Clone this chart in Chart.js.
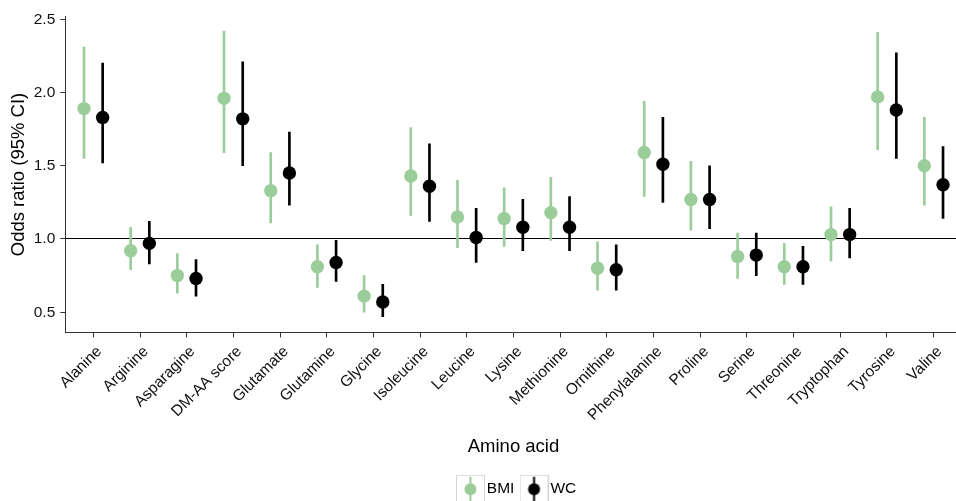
<!DOCTYPE html>
<html>
<head>
<meta charset="utf-8">
<script src="https://cdn.jsdelivr.net/npm/chart.js@4.4.1/dist/chart.umd.min.js"></script>
<style>
  html, body { margin: 0; padding: 0; background: #fff; overflow: hidden; }
  #wrap { width: 956px; height: 501px; overflow: hidden; }
</style>
</head>
<body>
<div id="wrap"><canvas id="chart" width="1038" height="513"></canvas></div>
<script>
// categories
const AMINO = [
  "Alanine", "Arginine", "Asparagine", "DM-AA score", "Glutamate", "Glutamine",
  "Glycine", "Isoleucine", "Leucine", "Lysine", "Methionine", "Ornithine",
  "Phenylalanine", "Proline", "Serine", "Threonine", "Tryptophan", "Tyrosine", "Valine"
];

// BMI odds ratios + 95% CI
const BMI_OR = [1.89, 0.92, 0.75, 1.96, 1.33, 0.81, 0.61, 1.43, 1.15, 1.14, 1.18, 0.80, 1.59, 1.27, 0.88, 0.81, 1.03, 1.97, 1.50];
const BMI_LO = [1.55, 0.79, 0.63, 1.59, 1.11, 0.67, 0.50, 1.16, 0.94, 0.95, 0.99, 0.65, 1.29, 1.06, 0.73, 0.69, 0.85, 1.61, 1.23];
const BMI_HI = [2.31, 1.08, 0.90, 2.42, 1.59, 0.96, 0.75, 1.76, 1.40, 1.35, 1.42, 0.98, 1.94, 1.53, 1.04, 0.97, 1.22, 2.41, 1.83];

// WC odds ratios + 95% CI
const WC_OR = [1.83, 0.97, 0.73, 1.82, 1.45, 0.84, 0.57, 1.36, 1.01, 1.08, 1.08, 0.79, 1.51, 1.27, 0.89, 0.81, 1.03, 1.88, 1.37];
const WC_LO = [1.52, 0.83, 0.61, 1.50, 1.23, 0.71, 0.47, 1.12, 0.84, 0.92, 0.92, 0.65, 1.25, 1.07, 0.75, 0.69, 0.87, 1.55, 1.14];
const WC_HI = [2.20, 1.12, 0.86, 2.21, 1.73, 0.99, 0.69, 1.65, 1.21, 1.27, 1.29, 0.96, 1.83, 1.50, 1.04, 0.95, 1.21, 2.27, 1.63];

const Y_TICKS = [0.5, 1.0, 1.5, 2.0, 2.5];

const GREEN = "#9BCD9B";
const BLACK = "#000000";
const FONT = "'Liberation Sans', Arial, sans-serif";
const DODGE = 0.2;

// points / error bars, dodged around the category position
const pts = (vals, off) => vals.map((v, i) => ({ x: i + off, y: v }));
const bars = (lo, hi, off) => lo.map((v, i) => ({ x: i + off, y: [v, hi[i]] }));

// legend key: grey box, vertical range line and dot
function legendKey(color) {
  const c = document.createElement("canvas");
  c.width = 29; c.height = 29;
  const g = c.getContext("2d");
  g.strokeStyle = "#d4d4d4"; g.lineWidth = 1;
  g.strokeRect(0.5, 0.5, 28, 28);
  g.strokeStyle = color; g.lineWidth = 2;
  g.beginPath(); g.moveTo(14.5, 2); g.lineTo(14.5, 27); g.stroke();
  g.fillStyle = color;
  g.beginPath(); g.arc(14.5, 14.5, 6, 0, Math.PI * 2); g.fill();
  return c;
}
const KEYS = [legendKey(GREEN), legendKey(BLACK)];

const ctx = document.getElementById("chart").getContext("2d");

new Chart(ctx, {
  type: "bar",
  data: {
    datasets: [
      { type: "scatter", label: "BMI", data: pts(BMI_OR, -DODGE), backgroundColor: GREEN,
        pointRadius: 6.7, pointBorderWidth: 0, order: 0 },
      { type: "scatter", label: "WC", data: pts(WC_OR, DODGE), backgroundColor: BLACK,
        pointRadius: 6.7, pointBorderWidth: 0, order: 0 },
      { label: "BMI CI", data: bars(BMI_LO, BMI_HI, -DODGE), backgroundColor: GREEN,
        barThickness: 2, grouped: false, borderWidth: 0, order: 1 },
      { label: "WC CI", data: bars(WC_LO, WC_HI, DODGE), backgroundColor: BLACK,
        barThickness: 2, grouped: false, borderWidth: 0, order: 1 }
    ]
  },
  options: {
    responsive: false,
    animation: false,
    devicePixelRatio: 1,
    layout: { padding: { top: 16.6, right: 0, bottom: 6.05, left: 0 } },
    plugins: {
      tooltip: { enabled: false },
      legend: {
        position: "bottom",
        labels: {
          usePointStyle: true,
          pointStyleWidth: 17.3,
          boxHeight: 15.5,
          padding: 11,
          color: "#000",
          font: { family: FONT, size: 15.5 },
          filter: item => item.datasetIndex < 2,
          generateLabels: chart =>
            Chart.defaults.plugins.legend.labels.generateLabels(chart)
              .map(l => Object.assign(l, { pointStyle: KEYS[l.datasetIndex] || l.pointStyle }))
        }
      }
    },
    scales: {
      x: {
        type: "linear",
        offset: false,
        min: -0.6,
        max: AMINO.length - 0.4,
        afterBuildTicks: s => { s.ticks = AMINO.map((_, i) => ({ value: i })); },
        afterFit: s => { s.height = 138; },
        grid: { offset: false, drawOnChartArea: false, tickColor: "#333", tickLength: 5 },
        border: { color: "#333", width: 1 },
        ticks: {
          autoSkip: false, minRotation: 45, maxRotation: 45, padding: 5, labelOffset: 6,
          color: "#111", font: { family: FONT, size: 15.5 },
          callback: v => AMINO[v]
        },
        title: {
          display: true, text: "Amino acid", color: "#000",
          font: { family: FONT, size: 18.5, lineHeight: 1.2 },
          padding: { top: 0, bottom: 12.6 }
        }
      },
      y: {
        min: 0.362,
        max: 2.518,
        afterBuildTicks: s => { s.ticks = Y_TICKS.map(v => ({ value: v })); },
        afterFit: s => { s.width = 65.3; },
        grid: {
          color: c => (c.tick && c.tick.value === 1 ? "#000" : "rgba(0,0,0,0)"),
          tickColor: "#333", tickLength: 5, lineWidth: 1
        },
        border: { color: "#333", width: 1 },
        ticks: {
          padding: 5, color: "#111", font: { family: FONT, size: 15.5 },
          callback: v => v.toFixed(1)
        },
        title: {
          display: true, text: "Odds ratio (95% CI)", color: "#000",
          font: { family: FONT, size: 18.5, lineHeight: 1.2 },
          padding: { top: 8.2, bottom: 0 }
        }
      },
      // empty right margin (off-screen), keeps the panel edge and centres the legend like the original
      pad: {
        position: "right",
        display: true,
        min: 0, max: 1,
        afterFit: s => { s.width = 76.3; },
        grid: { display: false },
        border: { display: false },
        ticks: { display: false }
      }
    }
  }
});
</script>
</body>
</html>
